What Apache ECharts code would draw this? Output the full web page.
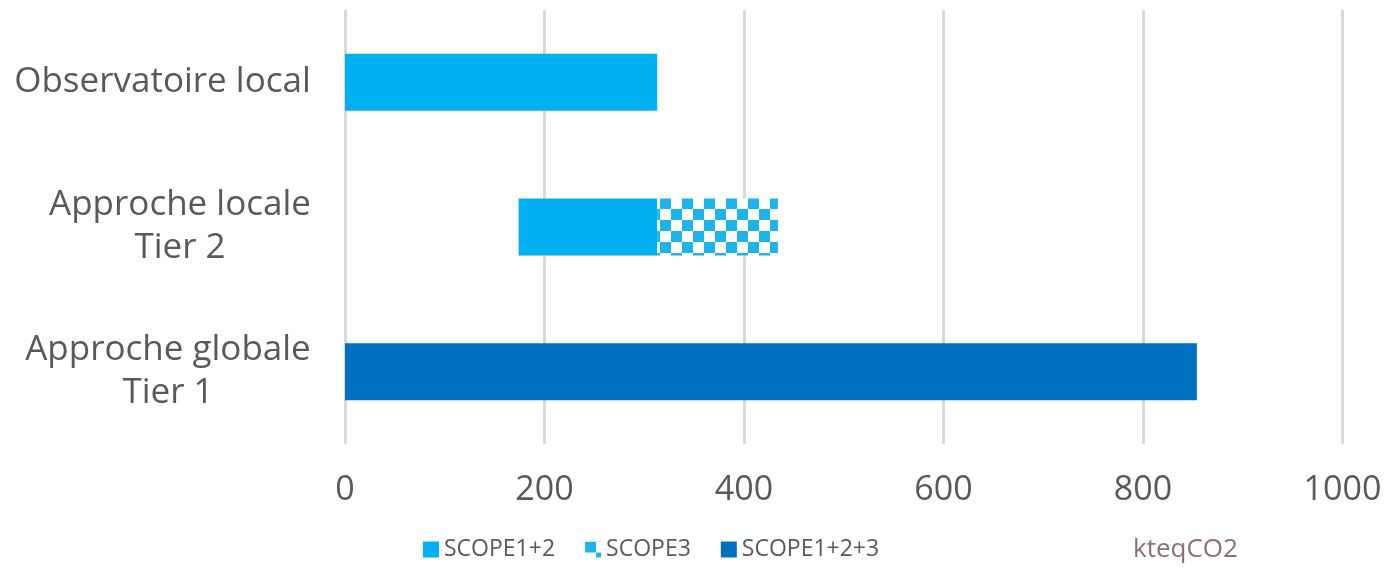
<!DOCTYPE html>
<html>
<head>
<meta charset="utf-8">
<style>
  html, body { margin: 0; padding: 0; background: #ffffff; }
  #chart { width: 1390px; height: 574px; }
</style>
<script src="https://cdn.jsdelivr.net/npm/echarts@6/dist/echarts.min.js"></script>
</head>
<body>
<div id="chart"></div>
<script>
// Emissions by approach, kteqCO2
const categories = ['Observatoire local', 'Approche locale\nTier 2', 'Approche globale\nTier 1'];
const scope12Start = [0, 174, null];
const scope12End = [313, 313, null];
const scope3End = [null, 434, null];
const scope123 = [null, null, 854];
const xTicks = { min: 0, max: 1000, step: 200 };
const unitLabel = 'kteqCO2';

const LABEL_FONT = '"Open Sans", "Noto Sans", sans-serif';
const GREY = '#595959';
const CAT_SIZE = 35;

// Checkerboard fill used for SCOPE3
function checkerPattern(cell, color) {
  const c = document.createElement('canvas');
  c.width = cell * 2;
  c.height = cell * 2;
  const ctx = c.getContext('2d');
  ctx.fillStyle = '#ffffff';
  ctx.fillRect(0, 0, c.width, c.height);
  ctx.fillStyle = color;
  ctx.fillRect(0, 0, cell, cell);
  ctx.fillRect(cell, cell, cell, cell);
  return c;
}

// Stacked segments derived from start/end values
const offset = scope12Start.map(v => (v == null ? null : v));
const scope12 = scope12End.map((e, i) => (e == null ? null : e - (scope12Start[i] || 0)));
const scope3 = scope3End.map((e, i) => (e == null ? null : e - scope12End[i]));

// Per-category rich styles so multi-line labels are centred line by line
const measureCtx = document.createElement('canvas').getContext('2d');
measureCtx.font = CAT_SIZE + 'px ' + LABEL_FONT;
const rich = {};
categories.forEach((cat, i) => {
  const w = Math.max(...cat.split('\n').map(s => measureCtx.measureText(s).width));
  rich['c' + i] = {
    width: Math.ceil(w),
    align: 'center',
    fontSize: CAT_SIZE,
    lineHeight: 43,
    color: GREY,
    fontFamily: LABEL_FONT
  };
});

const chart = echarts.init(document.getElementById('chart'), null, { renderer: 'canvas' });

const barWidth = 57;

chart.setOption({
  animation: false,
  backgroundColor: '#ffffff',
  grid: { left: 345, right: 47.5, top: 10, bottom: 130, containLabel: false },
  title: {
    text: unitLabel,
    left: 1128,
    top: 532,
    textStyle: { color: '#8C6E76', fontSize: 26, fontWeight: 'normal', fontFamily: LABEL_FONT }
  },
  legend: {
    data: ['SCOPE1+2', 'SCOPE3', 'SCOPE1+2+3'],
    left: 418,
    top: 533,
    itemWidth: 16,
    itemHeight: 16,
    itemGap: 30,
    icon: 'rect',
    textStyle: { color: GREY, fontSize: 23, fontFamily: LABEL_FONT }
  },
  xAxis: {
    type: 'value',
    min: xTicks.min,
    max: xTicks.max,
    interval: xTicks.step,
    axisLine: { show: false },
    axisTick: { show: false },
    splitLine: { show: true, lineStyle: { color: '#D9D9D9', width: 3 } },
    axisLabel: {
      color: GREY,
      fontSize: 34,
      fontFamily: LABEL_FONT,
      margin: 29,
      formatter: v => String(v)
    }
  },
  yAxis: {
    type: 'category',
    data: categories,
    inverse: true,
    axisLine: { show: false },
    axisTick: { show: false },
    splitLine: { show: false },
    axisLabel: {
      margin: 34,
      align: 'right',
      formatter: function (value, idx) {
        return value.split('\n').map(s => '{c' + idx + '|' + s + '}').join('\n');
      },
      rich: rich
    }
  },
  series: [
    {
      name: 'offset',
      type: 'bar',
      stack: 'total',
      barWidth: barWidth,
      silent: true,
      itemStyle: { color: 'rgba(0,0,0,0)' },
      data: offset
    },
    {
      name: 'SCOPE1+2',
      type: 'bar',
      stack: 'total',
      barWidth: barWidth,
      itemStyle: { color: '#00B0F0' },
      data: scope12
    },
    {
      name: 'SCOPE3',
      type: 'bar',
      stack: 'total',
      barWidth: barWidth,
      itemStyle: {
        color: { image: checkerPattern(11, '#1DB4EC'), repeat: 'repeat' }
      },
      data: scope3
    },
    {
      name: 'SCOPE1+2+3',
      type: 'bar',
      stack: 'total',
      barWidth: barWidth,
      itemStyle: { color: '#0070C0' },
      data: scope123
    }
  ]
});
</script>
</body>
</html>
